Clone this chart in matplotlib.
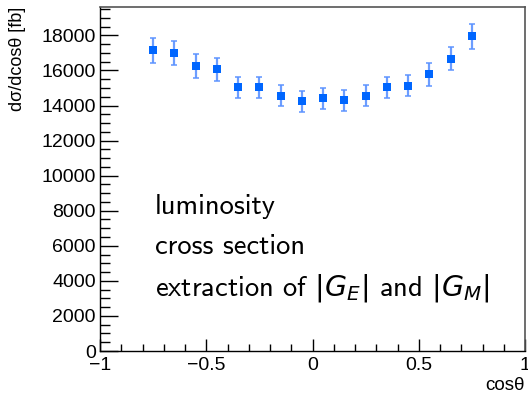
import numpy as np
import matplotlib
matplotlib.use("Agg")
import matplotlib.pyplot as plt
from matplotlib.ticker import MultipleLocator, FuncFormatter

plt.rcParams['mathtext.fontset'] = 'custom'
plt.rcParams['mathtext.rm'] = 'DejaVu Sans'
plt.rcParams['mathtext.it'] = 'DejaVu Sans:italic'
plt.rcParams['mathtext.sf'] = 'DejaVu Sans'

# Differential cross section per cos(theta) bin
cos_theta = [-0.75, -0.65, -0.55, -0.45, -0.35, -0.25, -0.15, -0.05,
             0.05, 0.15, 0.25, 0.35, 0.45, 0.55, 0.65, 0.75]
dsigma = [17140, 17010, 16230, 16060, 15030, 15030, 14570, 14230,
          14400, 14290, 14570, 15030, 15140, 15770, 16670, 17940]
dsigma_err = [690, 690, 680, 670, 620, 620, 610, 610,
              610, 610, 610, 620, 620, 640, 670, 720]

notes = ["luminosity", "cross section", r"extraction of $|G_E|$ and $|G_M|$"]

fig = plt.figure(figsize=(5.28, 3.98), dpi=100)
ax = fig.add_axes([100 / 528, 1 - 351 / 398, 425 / 528, (351 - 7.3) / 398])

ax.errorbar(cos_theta, dsigma, yerr=dsigma_err, fmt='none',
            ecolor='#5c93ff', elinewidth=1.6, capsize=2.5, capthick=1.2, alpha=0.9)
ax.plot(cos_theta, dsigma, 's', color='#0066ff', markersize=5.2,
        markeredgewidth=0)

ax.set_xlim(-1, 1)
ax.set_ylim(0, 19600)

ax.xaxis.set_major_locator(MultipleLocator(0.5))
ax.xaxis.set_minor_locator(MultipleLocator(0.1))
ax.yaxis.set_major_locator(MultipleLocator(2000))
ax.yaxis.set_minor_locator(MultipleLocator(500))


def fmt_x(v, pos):
    s = f"{v:g}"
    if s == "-0":
        s = "0"
    return s.replace("-", "\u2212")


ax.xaxis.set_major_formatter(FuncFormatter(fmt_x))
ax.yaxis.set_major_formatter(FuncFormatter(lambda v, p: f"{int(round(v))}"))

ax.tick_params(axis='both', which='both', direction='in', top=False, right=False,
               labelsize=14, width=1, colors='black')
ax.tick_params(axis='y', which='major', length=13, pad=3)
ax.tick_params(axis='y', which='minor', length=7)
ax.tick_params(axis='x', which='major', length=9, pad=4)
ax.tick_params(axis='x', which='minor', length=5)

for lab in ax.get_xticklabels() + ax.get_yticklabels():
    lab.set_fontfamily('Liberation Sans')

for side in ['top', 'right']:
    ax.spines[side].set_color('#555555')
    ax.spines[side].set_linewidth(1.2)
for side in ['left', 'bottom']:
    ax.spines[side].set_color('black')
    ax.spines[side].set_linewidth(1.0)

fig.text(18 / 528, 1 - 7 / 398, "dσ/dcosθ [fb]", rotation=90, ha='center', va='top',
         fontsize=13, fontfamily='Liberation Sans')
fig.text(525 / 528, 1 - 385 / 398, "cosθ", ha='right', va='center',
         fontsize=13.5, fontfamily='Liberation Sans')

baselines = [214, 254, 295]
for txt, yb in zip(notes, baselines):
    fig.text(155 / 528, 1 - yb / 398, txt, ha='left', va='baseline',
             fontsize=20.5, fontfamily='cmss10')

fig.savefig("out.png", dpi=100)
